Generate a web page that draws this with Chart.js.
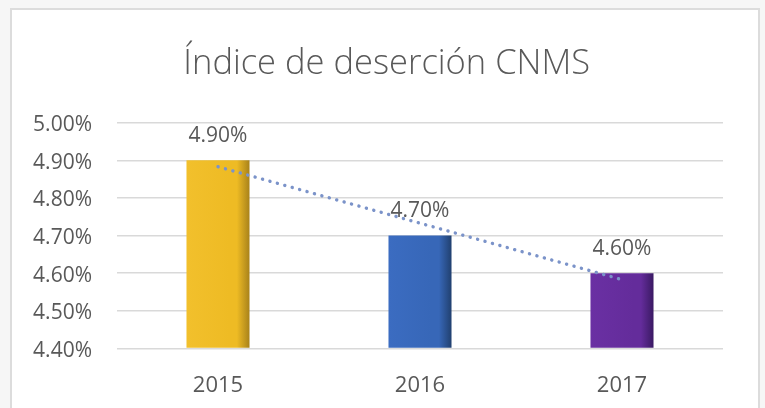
<!DOCTYPE html>
<html>
<head>
<meta charset="utf-8">
<script src="https://cdn.jsdelivr.net/npm/chart.js@4.4.1/dist/chart.umd.min.js"></script>
<style>
  html, body { margin: 0; padding: 0; width: 765px; height: 408px; overflow: hidden; background: #f6f6f6; }
  #frame { position: absolute; left: 10px; top: 8px; width: 746px; height: 420px; background: #ffffff; border: 2px solid #dcdcdc; }
  #c { position: absolute; left: 0; top: 0; }
</style>
</head>
<body>
<div id="frame"></div>
<canvas id="c" width="765" height="408"></canvas>
<script>
const categories = ['2015', '2016', '2017'];
const desercion = [4.90, 4.70, 4.60];
const tendencia = [4.883, 4.733, 4.583];
const yTicks = [4.40, 4.50, 4.60, 4.70, 4.80, 4.90, 5.00];
const barColors = [
  ['#f2c02c', '#eebb24', '#a8821a'],
  ['#3b6cc1', '#3767b8', '#21406f'],
  ['#6a30a3', '#642c9b', '#3a1a63']
];
const titleText = 'Índice de deserción CNMS';

const TEXT = '#595959';
const GRID = '#d9d9d9';

const gradientPlugin = {
  id: 'barGradient',
  beforeDatasetsDraw(chart) {
    const ctx = chart.ctx;
    chart.data.datasets.forEach((ds, di) => {
      if (ds.type !== 'bar') return;
      const meta = chart.getDatasetMeta(di);
      meta.data.forEach((el, i) => {
        const c = barColors[i % barColors.length];
        const x0 = el.x - el.width / 2, x1 = el.x + el.width / 2;
        const g = ctx.createLinearGradient(x0, 0, x1, 0);
        g.addColorStop(0, c[0]);
        g.addColorStop(0.68, c[1]);
        g.addColorStop(0.80, c[1]);
        g.addColorStop(1, c[2]);
        el.options.backgroundColor = g;
      });
    });
  }
};

const labelPlugin = {
  id: 'valueLabels',
  afterDatasetsDraw(chart) {
    const ctx = chart.ctx;
    chart.data.datasets.forEach((ds, di) => {
      if (ds.type !== 'bar') return;
      const meta = chart.getDatasetMeta(di);
      ctx.save();
      ctx.font = '21px "Open Sans"';
      ctx.fillStyle = TEXT;
      ctx.textAlign = 'center';
      ctx.textBaseline = 'middle';
      meta.data.forEach((el, i) => {
        ctx.fillText(ds.data[i].toFixed(2) + '%', el.x, el.y - 24.5);
      });
      ctx.restore();
    });
  }
};

new Chart(document.getElementById('c'), {
  data: {
    labels: categories,
    datasets: [
      {
        type: 'line',
        label: 'Tendencia',
        data: tendencia,
        borderColor: '#7b93c9',
        borderWidth: 3.4,
        borderDash: [0.1, 7.6],
        borderCapStyle: 'round',
        pointRadius: 0,
        fill: false,
        tension: 0,
        order: 0
      },
      {
        type: 'bar',
        label: 'Índice de deserción',
        data: desercion,
        backgroundColor: barColors.map(c => c[1]),
        borderWidth: 0,
        categoryPercentage: 0.8,
        barPercentage: 0.39,
        base: 4.40,
        order: 1
      }
    ]
  },
  options: {
    responsive: false,
    animation: false,
    layout: { padding: { left: 30, right: 21.6, top: 0, bottom: 0 } },
    plugins: {
      legend: { display: false },
      tooltip: { enabled: false },
      title: {
        display: true,
        text: titleText,
        color: TEXT,
        font: { family: 'Open Sans', size: 34.5, weight: '300', lineHeight: 1.2 },
        padding: { top: 43, bottom: 38.3 }
      }
    },
    scales: {
      x: {
        grid: { display: false },
        border: { display: false },
        ticks: { color: TEXT, font: { family: 'Open Sans', size: 22 }, padding: 16 },
        afterFit(scale) { scale.height = 59.5; }
      },
      y: {
        min: 4.40,
        max: 5.00,
        afterBuildTicks(scale) { scale.ticks = yTicks.map(v => ({ value: v })); },
        grid: { color: GRID, lineWidth: 1.5, drawTicks: false },
        border: { display: false },
        ticks: {
          color: TEXT,
          font: { family: 'Open Sans', size: 21 },
          padding: 25,
          labelOffset: 2.5,
          callback: v => Number(v).toFixed(2) + '%'
        },
        afterFit(scale) { scale.width = 87; }
      },
      ySpacer: {
        position: 'right',
        display: true,
        grid: { display: false },
        border: { display: false },
        ticks: { display: false },
        afterFit(scale) { scale.width = 20.4; }
      }
    }
  },
  plugins: [gradientPlugin, labelPlugin]
});
</script>
</body>
</html>
